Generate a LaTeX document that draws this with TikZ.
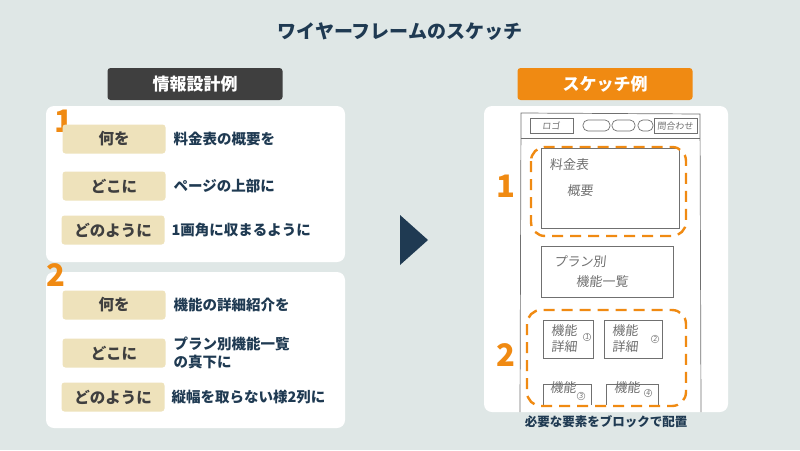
\documentclass[tikz,border=0pt]{standalone}
\usepackage{fontspec}
\setmainfont{Noto Sans CJK JP}
\newfontfamily\hand{Noto Sans CJK JP}[FakeSlant=0.1]
\begin{document}
\definecolor{bg}{HTML}{DFE7E6}
\definecolor{navy}{HTML}{1F3A52}
\definecolor{org}{HTML}{F08A12}
\definecolor{tan}{HTML}{EEE2BB}
\definecolor{dk}{HTML}{3F3F3F}
\definecolor{pen}{HTML}{707070}
\begin{tikzpicture}[x=1pt,y=-1pt,
 panel/.style={fill=white,rounded corners=8pt,draw=none},
 tanbox/.style={fill=tan,rounded corners=3pt,minimum width=103pt,minimum height=29pt,font=\bfseries\fontsize{15.5}{17}\selectfont,text=dk},
 info/.style={anchor=west,font=\bfseries\fontsize{14.5}{18}\selectfont,text=navy,align=left},
 hdr/.style={rounded corners=3pt,minimum width=175pt,minimum height=32pt,font=\bfseries\fontsize{17}{19}\selectfont,text=white},
 num/.style={font=\bfseries\fontsize{31}{33}\selectfont,text=org},
 sk/.style={draw=pen,line width=0.7pt},
 hw/.style={font=\hand\fontsize{13}{16}\selectfont,text=pen},
 odash/.style={draw=org,line width=2.4pt,dash pattern=on 11pt off 7pt,rounded corners=14pt}]
\fill[bg] (0,0) rectangle (800,450);
\useasboundingbox (0,0) rectangle (800,450);
\node[font=\bfseries\fontsize{19}{21}\selectfont,text=navy] (title) at (400,32) {ワイヤーフレームのスケッチ};
% left
\node[hdr,fill=dk] (h1) at (195,84) {情報設計例};
\fill[panel] (46,106) rectangle (345,262);
\fill[panel] (46,272) rectangle (345,428);
\node[num] (n1) at (64,121) {1};
\node[num] (n2) at (56,275) {2};
\node[tanbox] (a1) at (114,139) {何を};
\node[info] (t1) at (170,139) {料金表の概要を};
\node[tanbox] (a2) at (114,186) {どこに};
\node[info] (t2) at (170,186) {ページの上部に};
\node[tanbox] (a3) at (113,230) {どのように};
\node[info] (t3) at (168,230) {1画角に収まるように};
\node[tanbox] (b1) at (114,305) {何を};
\node[info] (u1) at (170,305) {機能の詳細紹介を};
\node[tanbox] (b2) at (114,353) {どこに};
\node[info] (u2) at (170,353) {プラン別機能一覧\\の真下に};
\node[tanbox] (b3) at (113,397) {どのように};
\node[info] (u3) at (168,397) {縦幅を取らない様2列に};
% arrow
\fill[navy] (400,215) -- (428,240) -- (400,265) -- cycle;
% right
\node[hdr,fill=org] (h2) at (605,84) {スケッチ例};
\fill[panel] (484,106) rectangle (728,412);
\draw[sk] (520,412) -- (521,113) -- (700,114) -- (701,412);
\draw[sk] (521,138) -- (700,138);
\draw[sk] (530,118) rectangle (573,133);
\node[hw,font=\hand\fontsize{9}{10}\selectfont] (logo) at (551,126) {ロゴ};
\draw[sk,rounded corners=5pt] (583,120) rectangle (610,131);
\draw[sk,rounded corners=5pt] (612,120) rectangle (635,131);
\draw[sk,rounded corners=5pt] (638,120) rectangle (653,131);
\draw[sk] (654,118) rectangle (697,133);
\node[hw,font=\hand\fontsize{9}{10}\selectfont] (cont) at (675,126) {問合わせ};
\draw[sk] (541,148) rectangle (679,228);
\node[hw] (k1) at (569,165) {料金表};
\node[hw] (k2) at (580,191) {概要};
\draw[sk] (541,246) rectangle (673,297);
\node[hw] (k3) at (580,262) {プラン別};
\node[hw] (k4) at (602,282) {機能一覧};
\draw[sk] (543,320) rectangle (593,358);
\draw[sk] (604,320) rectangle (662,358);
\draw[sk] (543,384) -- (543,405) (543,384) -- (591,384) -- (591,405);
\draw[sk] (606,384) -- (606,405) (606,384) -- (658,384) -- (658,405);
\node[hw,align=left] (d1) at (564,339) {機能\\詳細};
\node[hw,align=left] (d2) at (625,339) {機能\\詳細};
\node[hw,align=left,anchor=north] (d3) at (563,378) {機能};
\node[hw,align=left,anchor=north] (d4) at (627,378) {機能};
\node[hw,font=\hand\fontsize{7}{8}\selectfont,draw=pen,circle,inner sep=0.5pt] (c1) at (587,337) {1};
\node[hw,font=\hand\fontsize{7}{8}\selectfont,draw=pen,circle,inner sep=0.5pt] (c2) at (655,339) {2};
\node[hw,font=\hand\fontsize{7}{8}\selectfont,draw=pen,circle,inner sep=0.5pt] (c3) at (581,396) {3};
\node[hw,font=\hand\fontsize{7}{8}\selectfont,draw=pen,circle,inner sep=0.5pt] (c4) at (648,393) {4};
\draw[odash] (531,147) rectangle (686,236);
\draw[odash] (527,310) rectangle (686,406);
\node[num] (r1) at (506,186) {1};
\node[num] (r2) at (506,355) {2};
\node[font=\bfseries\fontsize{12.5}{14}\selectfont,text=navy] (cap) at (606,422) {必要な要素をブロックで配置};
\end{tikzpicture}
\end{document}
